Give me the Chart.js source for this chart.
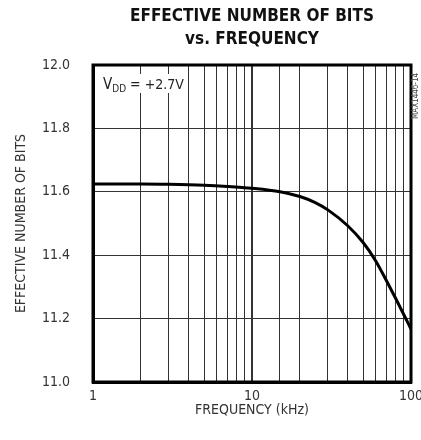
<!DOCTYPE html>
<html>
<head>
<meta charset="utf-8">
<script src="https://cdn.jsdelivr.net/npm/chart.js@4.4.1/dist/chart.umd.min.js"></script>
<style>
  html, body { margin: 0; padding: 0; background: #fff; }
  #wrap { width: 421px; height: 440px; }
</style>
</head>
<body>
<div id="wrap"><canvas id="enobChart" width="421" height="440"></canvas></div>
<script>
// Datos (frecuencia en kHz, ENOB)
const frequency = [1, 2, 3, 5, 7, 10, 15, 20, 25, 30, 40, 50, 60, 70, 80, 90, 100];
const enob = [11.625, 11.625, 11.624, 11.621, 11.617, 11.611, 11.600, 11.585, 11.566, 11.543, 11.493, 11.440, 11.382, 11.320, 11.264, 11.213, 11.167];
const xLabelTicks = [1, 10, 100];
const yTicks = [11.0, 11.2, 11.4, 11.6, 11.8, 12.0];

const FONT = "'Liberation Sans Narrow', 'DejaVu Sans Condensed', 'Liberation Sans', sans-serif";

// Marco completo alrededor del área del gráfico y anotaciones
const framePlugin = {
    id: 'frame',
    afterDraw(chart) {
        const { ctx, chartArea: a } = chart;
        ctx.save();
        ctx.strokeStyle = '#000';
        ctx.lineWidth = 3;
        ctx.strokeRect(a.left, a.top, a.right - a.left, a.bottom - a.top);

        // Etiqueta VDD con fondo blanco
        ctx.fillStyle = '#fff';
        ctx.fillRect(a.left + 6, a.top + 9, 80, 19);
        ctx.fillStyle = '#222';
        ctx.textBaseline = 'alphabetic';
        ctx.textAlign = 'left';
        let x = a.left + 10;
        const base = a.top + 24;
        ctx.font = '15px ' + FONT;
        ctx.fillText('V', x, base);
        x += ctx.measureText('V').width;
        ctx.font = '10px ' + FONT;
        ctx.fillText('DD', x, base + 3);
        x += ctx.measureText('DD').width;
        ctx.font = '14px ' + FONT;
        ctx.fillText(' = +2.7V', x, base);

        // Código lateral
        ctx.translate(a.right + 7, a.top + 54);
        ctx.rotate(-Math.PI / 2);
        ctx.font = '8px ' + FONT;
        ctx.fillStyle = '#444';
        ctx.fillText('MAX1446-14', 0, 0);
        ctx.restore();
    }
};

new Chart(document.getElementById('enobChart'), {
    type: 'line',
    data: {
        labels: frequency,
        datasets: [{
            data: frequency.map((f, i) => ({ x: f, y: enob[i] })),
            borderColor: '#000',
            borderWidth: 3,
            pointRadius: 0,
            fill: false,
            cubicInterpolationMode: 'monotone'
        }]
    },
    options: {
        responsive: false,
        animation: false,
        layout: { padding: { left: 0, right: 10, top: 0, bottom: 0 } },
        plugins: {
            legend: { display: false },
            tooltip: { enabled: false },
            title: {
                display: true,
                fullSize: false,
                text: ['EFFECTIVE NUMBER OF BITS', 'vs. FREQUENCY'],
                color: '#111',
                font: { family: FONT, size: 17, weight: 'bold', lineHeight: 1.35 },
                padding: { top: 5, bottom: 14.1 }
            }
        },
        scales: {
            x: {
                type: 'logarithmic',
                min: 1,
                max: 100,
                afterFit(scale) {
                    scale.height = 58;
                    scale.paddingLeft = 0;
                    scale.paddingRight = 0;
                },
                grid: {
                    color: '#333',
                    lineWidth: ctx => (ctx.tick && ctx.tick.value === 10 ? 2 : 1),
                    drawTicks: false
                },
                border: { color: '#000', width: 3 },
                ticks: {
                    autoSkip: false,
                    maxRotation: 0,
                    padding: 6,
                    color: '#333',
                    font: { family: FONT, size: 14 },
                    callback: value => (xLabelTicks.includes(value) ? String(value) : '')
                },
                title: {
                    display: true,
                    text: 'FREQUENCY (kHz)',
                    color: '#333',
                    font: { family: FONT, size: 14 },
                    padding: { top: 0, bottom: 21 }
                }
            },
            y: {
                min: 11.0,
                max: 12.0,
                afterFit(scale) {
                    scale.width = 93;
                    scale.paddingTop = 0;
                    scale.paddingBottom = 0;
                },
                afterBuildTicks(scale) {
                    scale.ticks = yTicks.map(v => ({ value: v }));
                },
                grid: { color: '#333', lineWidth: 1, drawTicks: false },
                border: { color: '#000', width: 3 },
                ticks: {
                    padding: 23,
                    color: '#333',
                    font: { family: FONT, size: 14 },
                    callback: value => Number(value).toFixed(1)
                },
                title: {
                    display: true,
                    text: 'EFFECTIVE NUMBER OF BITS',
                    color: '#333',
                    font: { family: FONT, size: 14 },
                    padding: { top: 13, bottom: 0 }
                }
            }
        }
    },
    plugins: [framePlugin]
});
</script>
</body>
</html>
